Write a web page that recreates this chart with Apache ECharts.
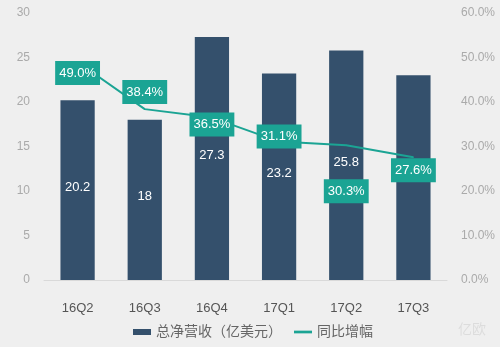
<!DOCTYPE html>
<html>
<head>
<meta charset="utf-8">
<script src="https://cdn.jsdelivr.net/npm/echarts@6/dist/echarts.min.js"></script>
<style>
  html, body { margin: 0; padding: 0; background: #efefef; }
  #chart { width: 500px; height: 347px; }
</style>
</head>
<body>
<div id="chart"></div>
<script>
// Quarterly net revenue (USD 100m) and year-over-year growth (%)
const quarters = ['16Q2', '16Q3', '16Q4', '17Q1', '17Q2', '17Q3'];
const revenue = [20.2, 18, 27.3, 23.2, 25.8, 23];
const growth = [49.0, 38.4, 36.5, 31.1, 30.3, 27.6];
const growthLabelShift = [11, -17, 7, -5, 46, 13];
const leftTicks = [0, 5, 10, 15, 20, 25, 30];
const rightTicks = [0, 10, 20, 30, 40, 50, 60];

const FONT = 'Liberation Sans, Arial, Noto Sans CJK SC, sans-serif';
const BAR = '#34506c';
const TEAL = '#1ba494';

const chart = echarts.init(document.getElementById('chart'), null, { renderer: 'canvas' });

chart.setOption({
  backgroundColor: '#efefef',
  animation: false,
  grid: { left: 44, right: 53, top: 13, bottom: 67 },
  legend: {
    bottom: 3,
    left: 128,
    itemGap: 12,
    itemWidth: 18,
    itemHeight: 6,
    textStyle: { color: '#666', fontSize: 14, fontFamily: FONT },
    data: [
      { name: '总净营收（亿美元）', icon: 'rect' },
      { name: '同比增幅', icon: 'path://M0,0H20V3H0Z' }
    ]
  },
  xAxis: {
    type: 'category',
    data: quarters,
    axisLine: { lineStyle: { color: '#d9d9d9' } },
    axisTick: { show: false },
    axisLabel: { color: '#555', fontSize: 13, fontFamily: FONT, margin: 22 }
  },
  yAxis: [
    {
      type: 'value',
      min: leftTicks[0],
      max: leftTicks[leftTicks.length - 1],
      interval: 5,
      splitLine: { show: false },
      axisLine: { show: false },
      axisTick: { show: false },
      axisLabel: { color: '#aaa', fontSize: 12, fontFamily: FONT, margin: 14 }
    },
    {
      type: 'value',
      min: rightTicks[0],
      max: rightTicks[rightTicks.length - 1],
      interval: 10,
      splitLine: { show: false },
      axisLine: { show: false },
      axisTick: { show: false },
      axisLabel: {
        color: '#aaa', fontSize: 12, fontFamily: FONT, margin: 14,
        formatter: v => v.toFixed(1) + '%'
      }
    }
  ],
  series: [
    {
      name: '总净营收（亿美元）',
      type: 'bar',
      data: revenue,
      barWidth: '51%',
      itemStyle: { color: BAR },
      label: {
        show: true,
        position: 'inside',
        offset: [0, -3],
        color: '#fff',
        fontSize: 13,
        fontFamily: FONT
      },
      z: 2
    },
    {
      name: '同比增幅',
      type: 'line',
      yAxisIndex: 1,
      data: growth.map((v, i) => ({
        value: v,
        label: { offset: [0, growthLabelShift[i]] }
      })),
      symbol: 'circle',
      symbolSize: 1,
      lineStyle: { color: TEAL, width: 2 },
      itemStyle: { color: TEAL },
      label: {
        show: true,
        position: 'inside',
        formatter: p => p.value.toFixed(1) + '%',
        color: '#fff',
        fontSize: 13,
        fontFamily: FONT,
        backgroundColor: TEAL,
        padding: [6, 4, 5, 4]
      },
      z: 5
    }
  ],
  graphic: [
    {
      type: 'text',
      left: 458,
      top: 322,
      style: { text: '亿欧', fill: 'rgba(0,0,0,0.08)', fontSize: 14, fontFamily: 'Noto Sans CJK SC' }
    }
  ]
});
</script>
</body>
</html>
